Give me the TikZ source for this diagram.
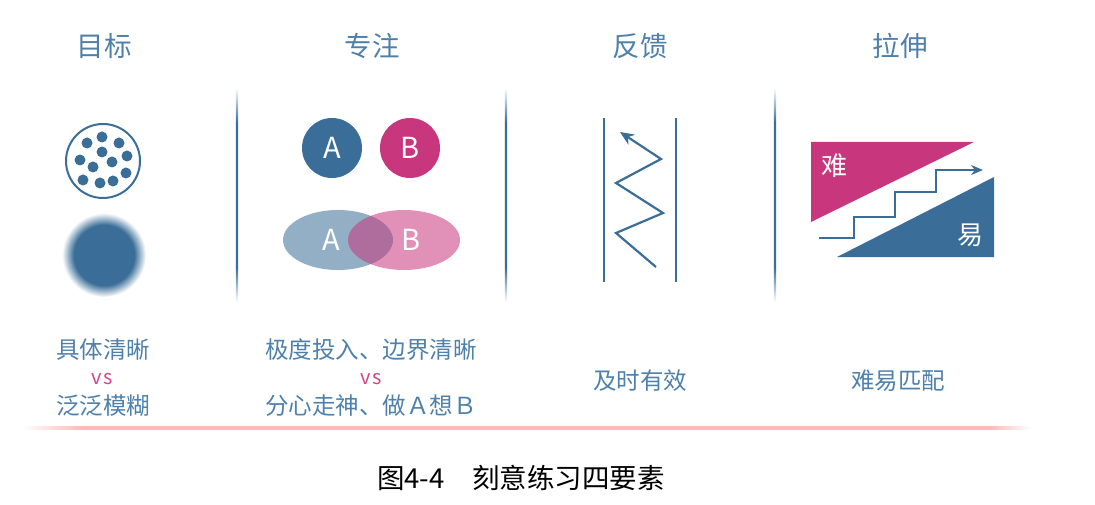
\documentclass[tikz,border=0pt]{standalone}
\usepackage{fontspec}
\setmainfont{Noto Sans CJK SC}
\usepackage{tikz}
\usetikzlibrary{arrows.meta}
\definecolor{HeadBlue}{RGB}{78,128,170}
\definecolor{DotBlue}{RGB}{58,110,152}
\definecolor{FocusPink}{RGB}{200,55,125}
\definecolor{VsPink}{RGB}{208,72,135}
\definecolor{LinePink}{RGB}{255,185,185}
\pgfdeclareradialshading{blurdot}{\pgfpoint{0bp}{0bp}}{color(0bp)=(DotBlue); color(18bp)=(DotBlue); color(25bp)=(white); color(50bp)=(white)}
\pgfdeclareverticalshading{divfade}{100bp}{color(0bp)=(white); color(25bp)=(white); color(33bp)=(DotBlue); color(67bp)=(DotBlue); color(75bp)=(white); color(100bp)=(white)}
\pgfdeclarehorizontalshading{linefade}{100bp}{color(0bp)=(white); color(25bp)=(white); color(28bp)=(LinePink); color(73bp)=(LinePink); color(75bp)=(white); color(100bp)=(white)}
\tikzset{
  heading/.style={font=\fontsize{27.5}{32}\selectfont, text=HeadBlue, inner sep=0pt},
  caption/.style={font=\fontsize{23.5}{28}\selectfont, text=HeadBlue, inner sep=0pt},
  vstext/.style={font=\fontsize{20}{24}\selectfont, text=VsPink, inner sep=0pt},
  letter/.style={font=\fontsize{29}{32}\selectfont, text=white, inner sep=0pt},
  bigdot/.style={circle, minimum size=60pt, inner sep=0pt},
  smalldot/.style={fill=DotBlue},
  rail/.style={line width=2.4pt, DotBlue},
  bounce/.style={line width=2.2pt, DotBlue, line join=miter, -{Stealth[length=14pt,width=12pt]}},
  stair/.style={line width=1.6pt, DotBlue, -{Stealth[length=12pt,width=10pt]}},
  figtitle/.style={font=\fontsize{27.5}{32}\selectfont, text=black, inner sep=0pt},
}

\begin{document}
\begin{tikzpicture}[x=1pt, y=-1pt]
  \useasboundingbox (0,0) rectangle (1095,505);
  \node[heading] (goalhead) at (104,46) {目标};
  \node[heading] (focushead) at (372,46) {专注};
  \node[heading] (feedhead) at (640,46) {反馈};
  \node[heading] (stretchhead) at (900,46) {拉伸};
  \foreach \x in {237,506,775} {
    \shade[shading=divfade] (\x-1.2,88) rectangle (\x+1.2,302);
  }
  \draw[line width=2pt, DotBlue] (103,161) circle (37);
  \foreach \dx/\dy in {102/137, 87/143, 119/143, 102/152, 127/156, 80/160, 112/162, 93/167, 126/173, 83/180, 100/183, 113/181} {
    \fill[smalldot] (\dx,\dy) circle (5.5);
  }
  \shade[shading=blurdot] (104,255) circle (42);
  \node[bigdot, fill=DotBlue] (dotA) at (332,148) {};
  \node[letter] at (dotA) {A};
  \node[bigdot, fill=FocusPink] (dotB) at (410,148) {};
  \node[letter] at (dotB) {B};
  \fill[DotBlue, fill opacity=0.55] (338,240) ellipse (55 and 30);
  \fill[FocusPink, fill opacity=0.55] (404,240) ellipse (56 and 30);
  \node[letter] (ovalA) at (331,240) {A};
  \node[letter] (ovalB) at (411,240) {B};
  \draw[rail] (604,118) -- (604,282);
  \draw[rail] (676,118) -- (676,282);
  \draw[bounce] (656,267) -- (616,233) -- (663,213) -- (616,183) -- (661,159) -- (620,132);
  \fill[FocusPink] (811,142) -- (974,142) -- (811,222) -- cycle;
  \fill[DotBlue] (837,257) -- (994,177) -- (994,257) -- cycle;
  \node[letter, font=\fontsize{26}{30}\selectfont] (hard) at (834,166) {难};
  \node[letter, font=\fontsize{26}{30}\selectfont] (easy) at (970,235) {易};
  \draw[stair] (819,238) -- (854,238) -- (854,217) -- (895,217) -- (895,192) -- (936,192) -- (936,170) -- (983,170);
  \node[caption] (goaltop) at (103,350) {具体清晰};
  \node[vstext] (goalvs) at (102,379) {v\hspace{2pt}s};
  \node[caption] (goalbot) at (103,406) {泛泛模糊};
  \node[caption] (focustop) at (371,350) {极度投入、边界清晰};
  \node[vstext] (focusvs) at (371,379) {v\hspace{2pt}s};
  \node[caption] (focusbot) at (371,406) {分心走神、做Ａ想Ｂ};
  \node[caption] (feedtext) at (640,381) {及时有效};
  \node[caption] (stretchtext) at (898,381) {难易匹配};
  \shade[shading=linefade] (22,426.5) rectangle (1030,429.5);
  \node[figtitle] (figcap) at (521,478) {图4-4　刻意练习四要素};
\end{tikzpicture}
\end{document}
